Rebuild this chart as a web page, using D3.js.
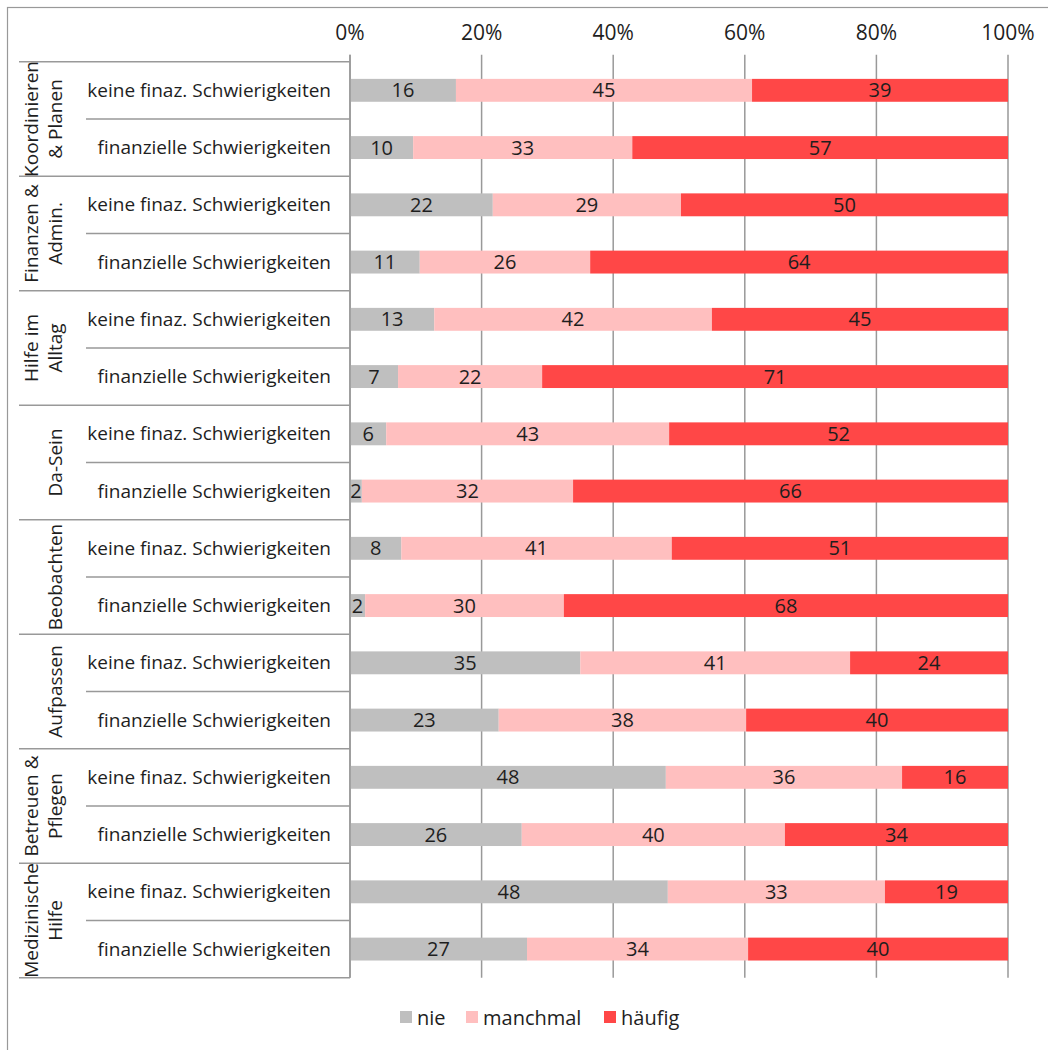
<!DOCTYPE html>
<html>
<head>
<meta charset="utf-8">
<script src="https://cdn.jsdelivr.net/npm/d3@7"></script>
<style>
  html, body { margin: 0; padding: 0; background: #fff; }
  svg { display: block; }
  text { font-family: "Open Sans", "Noto Sans", sans-serif; fill: #1e1e1e; }
</style>
</head>
<body>
<div id="chart"></div>
<script>
// ---- Data ----
const groups = [
  ["Koordinieren", "& Planen"],
  ["Finanzen &", "Admin."],
  ["Hilfe im", "Alltag"],
  ["", "Da-Sein"],
  ["", "Beobachten"],
  ["", "Aufpassen"],
  ["Betreuen &", "Pflegen"],
  ["Medizinische", "Hilfe"]
];
const subLabels = ["keine finaz. Schwierigkeiten", "finanzielle Schwierigkeiten"];
const seriesNames = ["nie", "manchmal", "häufig"];
const nie      = [16.1, 9.6, 21.7, 10.6, 12.8, 7.3, 5.5, 1.8, 7.8, 2.3, 35.0, 22.6, 48.0, 26.1, 48.3, 26.9];
const manchmal = [45.0, 33.3, 28.6, 25.9, 42.2, 21.9, 43.0, 32.1, 41.1, 30.2, 41.0, 37.6, 35.9, 40.0, 33.0, 33.6];
const haeufig  = [38.9, 57.1, 49.7, 63.5, 45.0, 70.8, 51.5, 66.1, 51.1, 67.5, 24.0, 39.8, 16.1, 33.9, 18.7, 39.5];
const tickValues = [0, 20, 40, 60, 80, 100];
const colors = ["#BFBFBF", "#FFBFBF", "#FF4747"];

// ---- Build rows ----
const rows = [];
groups.forEach((g, gi) => {
  subLabels.forEach((s, si) => {
    const i = gi * 2 + si;
    rows.push({ id: i, group: gi, label: s, nie: nie[i], manchmal: manchmal[i], "häufig": haeufig[i] });
  });
});

const W = 1048, H = 1050;
const svg = d3.select("#chart").append("svg").attr("width", W).attr("height", H);

// outer frame
svg.append("rect").attr("x", 7.5).attr("y", 7.5).attr("width", 1100).attr("height", 1100)
  .attr("fill", "none").attr("stroke", "#999").attr("stroke-width", 1.2);

const pLeft = 350, pRight = 1008, pTop = 61.7, pBottom = 977.7;
const x = d3.scaleLinear().domain([0, 100]).range([pLeft, pRight]);
const y = d3.scaleBand().domain(rows.map(r => r.id)).range([pTop, pBottom]).paddingInner(0.6).paddingOuter(0.3);
const yRow = d3.scaleBand().domain(rows.map(r => r.id)).range([pTop, pBottom]);

// gridlines + ticks
const grid = svg.append("g");
grid.selectAll("line").data(tickValues).join("line")
  .attr("x1", d => x(d)).attr("x2", d => x(d))
  .attr("y1", pTop - 7).attr("y2", pBottom)
  .attr("stroke", "#999").attr("stroke-width", 1.5);

// top axis labels
svg.append("g").selectAll("text").data(tickValues).join("text")
  .attr("x", d => x(d)).attr("y", 40)
  .attr("text-anchor", "middle").attr("font-size", 21)
  .text(d => d + "%");

// stacked bars
const stack = d3.stack().keys(seriesNames);
const stacked = stack(rows);
const barG = svg.append("g");
stacked.forEach((layer, li) => {
  const g = barG.append("g");
  g.selectAll("rect").data(layer).join("rect")
    .attr("x", d => x(d[0]))
    .attr("width", d => x(d[1]) - x(d[0]))
    .attr("y", d => y(d.data.id))
    .attr("height", y.bandwidth())
    .attr("fill", colors[li]);
  g.selectAll("text").data(layer).join("text")
    .attr("x", d => (x(d[0]) + x(d[1])) / 2)
    .attr("y", d => y(d.data.id) + y.bandwidth() / 2 + 7)
    .attr("text-anchor", "middle").attr("font-size", 20)
    .text(d => Math.round(d[1] - d[0]));
});

// y axis line
svg.append("line").attr("x1", pLeft).attr("x2", pLeft).attr("y1", pTop - 7).attr("y2", pBottom)
  .attr("stroke", "#999").attr("stroke-width", 1.5);

// separators
const seps = [];
for (let i = 0; i <= rows.length; i++) {
  const yy = pTop + i * yRow.step();
  seps.push({ y: yy, x1: (i % 2 === 0) ? 19 : 86 });
}
svg.append("g").selectAll("line").data(seps).join("line")
  .attr("x1", d => d.x1).attr("x2", pLeft)
  .attr("y1", d => d.y).attr("y2", d => d.y)
  .attr("stroke", "#999").attr("stroke-width", 1.5);

// sub labels
svg.append("g").selectAll("text").data(rows).join("text")
  .attr("x", 331)
  .attr("y", d => yRow(d.id) + yRow.bandwidth() / 2 + 6.5)
  .attr("text-anchor", "end").attr("font-size", 19)
  .text(d => d.label);

// group labels (rotated)
groups.forEach((g, gi) => {
  const cy = yRow(gi * 2) + yRow.step();
  g.forEach((line, li) => {
    if (!line) return;
    const cx = li === 0 ? 38 : 62;
    svg.append("text")
      .attr("transform", `translate(${cx},${cy}) rotate(-90)`)
      .attr("text-anchor", "middle").attr("font-size", 19)
      .text(line);
  });
});

// legend
const legendItems = [
  { name: "nie", x: 400 },
  { name: "manchmal", x: 466 },
  { name: "häufig", x: 604 }
];
const lg = svg.append("g");
legendItems.forEach((it, i) => {
  lg.append("rect").attr("x", it.x).attr("y", 1011).attr("width", 12).attr("height", 12).attr("fill", colors[i]);
  lg.append("text").attr("x", it.x + 17).attr("y", 1025).attr("font-size", 20).text(it.name);
});
</script>
</body>
</html>
